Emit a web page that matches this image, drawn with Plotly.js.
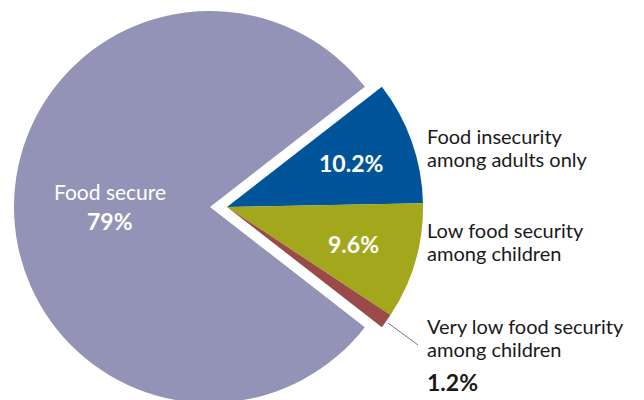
<!DOCTYPE html>
<html><head><meta charset="utf-8">
<script src="https://cdn.plot.ly/plotly-3.0.1.min.js"></script>
<style>html,body{margin:0;padding:0;overflow:hidden;background:#fff}</style>
</head><body><div id="chart" style="width:644px;height:420px"></div>
<script>
// ---- data ----
const categories = ["Food insecurity among adults only", "Low food security among children", "Very low food security among children", "Food secure"];
const labelLines = [["Food insecurity", "among adults only"], ["Low food security", "among children"], ["Very low food security", "among children"], ["Food secure"]];
const values = [10.2, 9.6, 1.2, 79];
const valueLabels = ["10.2%", "9.6%", "1.2%", "79%"];
const colors = ["#00559a", "#a2a71b", "#9b4a4a", "#9293b7"];

// ---- layout geometry ----
const W = 644, H = 420;
const cx = 210, cy = 207, R = 196, shift = 17;
const FONT = "Lato, 'Open Sans', sans-serif";
const X = px => px / W, Y = py => 1 - py / H;

const nSmall = 3;
const smallVals = values.slice(0, nSmall);
const smallSum = smallVals.reduce((a, b) => a + b, 0);
const total = values.reduce((a, b) => a + b, 0);
const startAngle = smallSum / total * 360 / 2;   // exploded group centred on 3 o'clock
const rotation = 90 - startAngle;
const transparent = "rgba(0,0,0,0)";

const mainTrace = {
  type: "pie", sort: false, direction: "clockwise", rotation: rotation,
  labels: ["(exploded group)", categories[3]],
  values: [smallSum, values[3]],
  marker: {colors: [transparent, colors[3]], line: {width: 0}},
  textinfo: "none", hoverinfo: "skip", showlegend: false,
  domain: {x: [X(cx - R), X(cx + R)], y: [Y(cy + R), Y(cy - R)]}
};
const explodedTrace = {
  type: "pie", sort: false, direction: "clockwise", rotation: rotation,
  labels: categories.slice(0, nSmall).concat(["(main slice)"]),
  values: values,
  marker: {colors: colors.slice(0, nSmall).concat([transparent]), line: {width: 0}},
  textinfo: "none", hoverinfo: "skip", showlegend: false,
  domain: {x: [X(cx + shift - R), X(cx + shift + R)], y: [Y(cy + R), Y(cy - R)]}
};

// slice bisector angles (degrees, ccw from 3 o'clock)
const mids = [];
let acc = startAngle;
values.forEach(v => { const a = v / total * 360; mids.push(acc - a / 2); acc -= a; });
const rad = d => d * Math.PI / 180;

const annotations = [];
const ann = (px, py, text, size, color, bold, xanchor) => annotations.push({
  xref: "paper", yref: "paper", x: X(px), y: Y(py), text: bold ? "<b>" + text + "</b>" : text,
  showarrow: false, xanchor: xanchor || "center", yanchor: "middle",
  font: {family: FONT, size: size, color: color}
});

// inside value labels of exploded slices
[0, 1].forEach(i => {
  const r = 0.67 * R;
  ann(cx + shift + r * Math.cos(rad(mids[i])), cy - r * Math.sin(rad(mids[i])), valueLabels[i], 23, "#ffffff", true);
});
// main slice label
{
  const r = 0.5 * R;
  const px = cx + r * Math.cos(rad(mids[3])), py = cy - r * Math.sin(rad(mids[3]));
  ann(px - 2, py - 15, labelLines[3][0], 21, "#ffffff", false);
  ann(px - 2, py + 14, valueLabels[3], 23, "#ffffff", true);
}
// outside labels
const outX = 425, lineGap = 23;
const blockY = [136, 230, 326];
[0, 1, 2].forEach(i => {
  labelLines[i].forEach((t, k) => ann(outX, blockY[i] + k * lineGap, t, 20, "#1a1a1a", false, "left"));
});
ann(outX, 382, valueLabels[2], 23, "#1a1a1a", true, "left");

// leader line for the smallest slice
const edgeX = cx + shift + R * Math.cos(rad(mids[2]));
const edgeY = cy - R * Math.sin(rad(mids[2]));
const shapes = [{
  type: "line", xref: "paper", yref: "paper",
  x0: X(edgeX + 2), y0: Y(edgeY + 2), x1: X(418), y1: Y(345),
  line: {color: "#777777", width: 1}
}];

Plotly.newPlot("chart", [mainTrace, explodedTrace], {
  width: W, height: H, margin: {l: 0, r: 0, t: 0, b: 0},
  paper_bgcolor: "#ffffff", plot_bgcolor: "#ffffff",
  annotations: annotations, shapes: shapes, showlegend: false
}, {displayModeBar: false, staticPlot: true});
</script></body></html>
